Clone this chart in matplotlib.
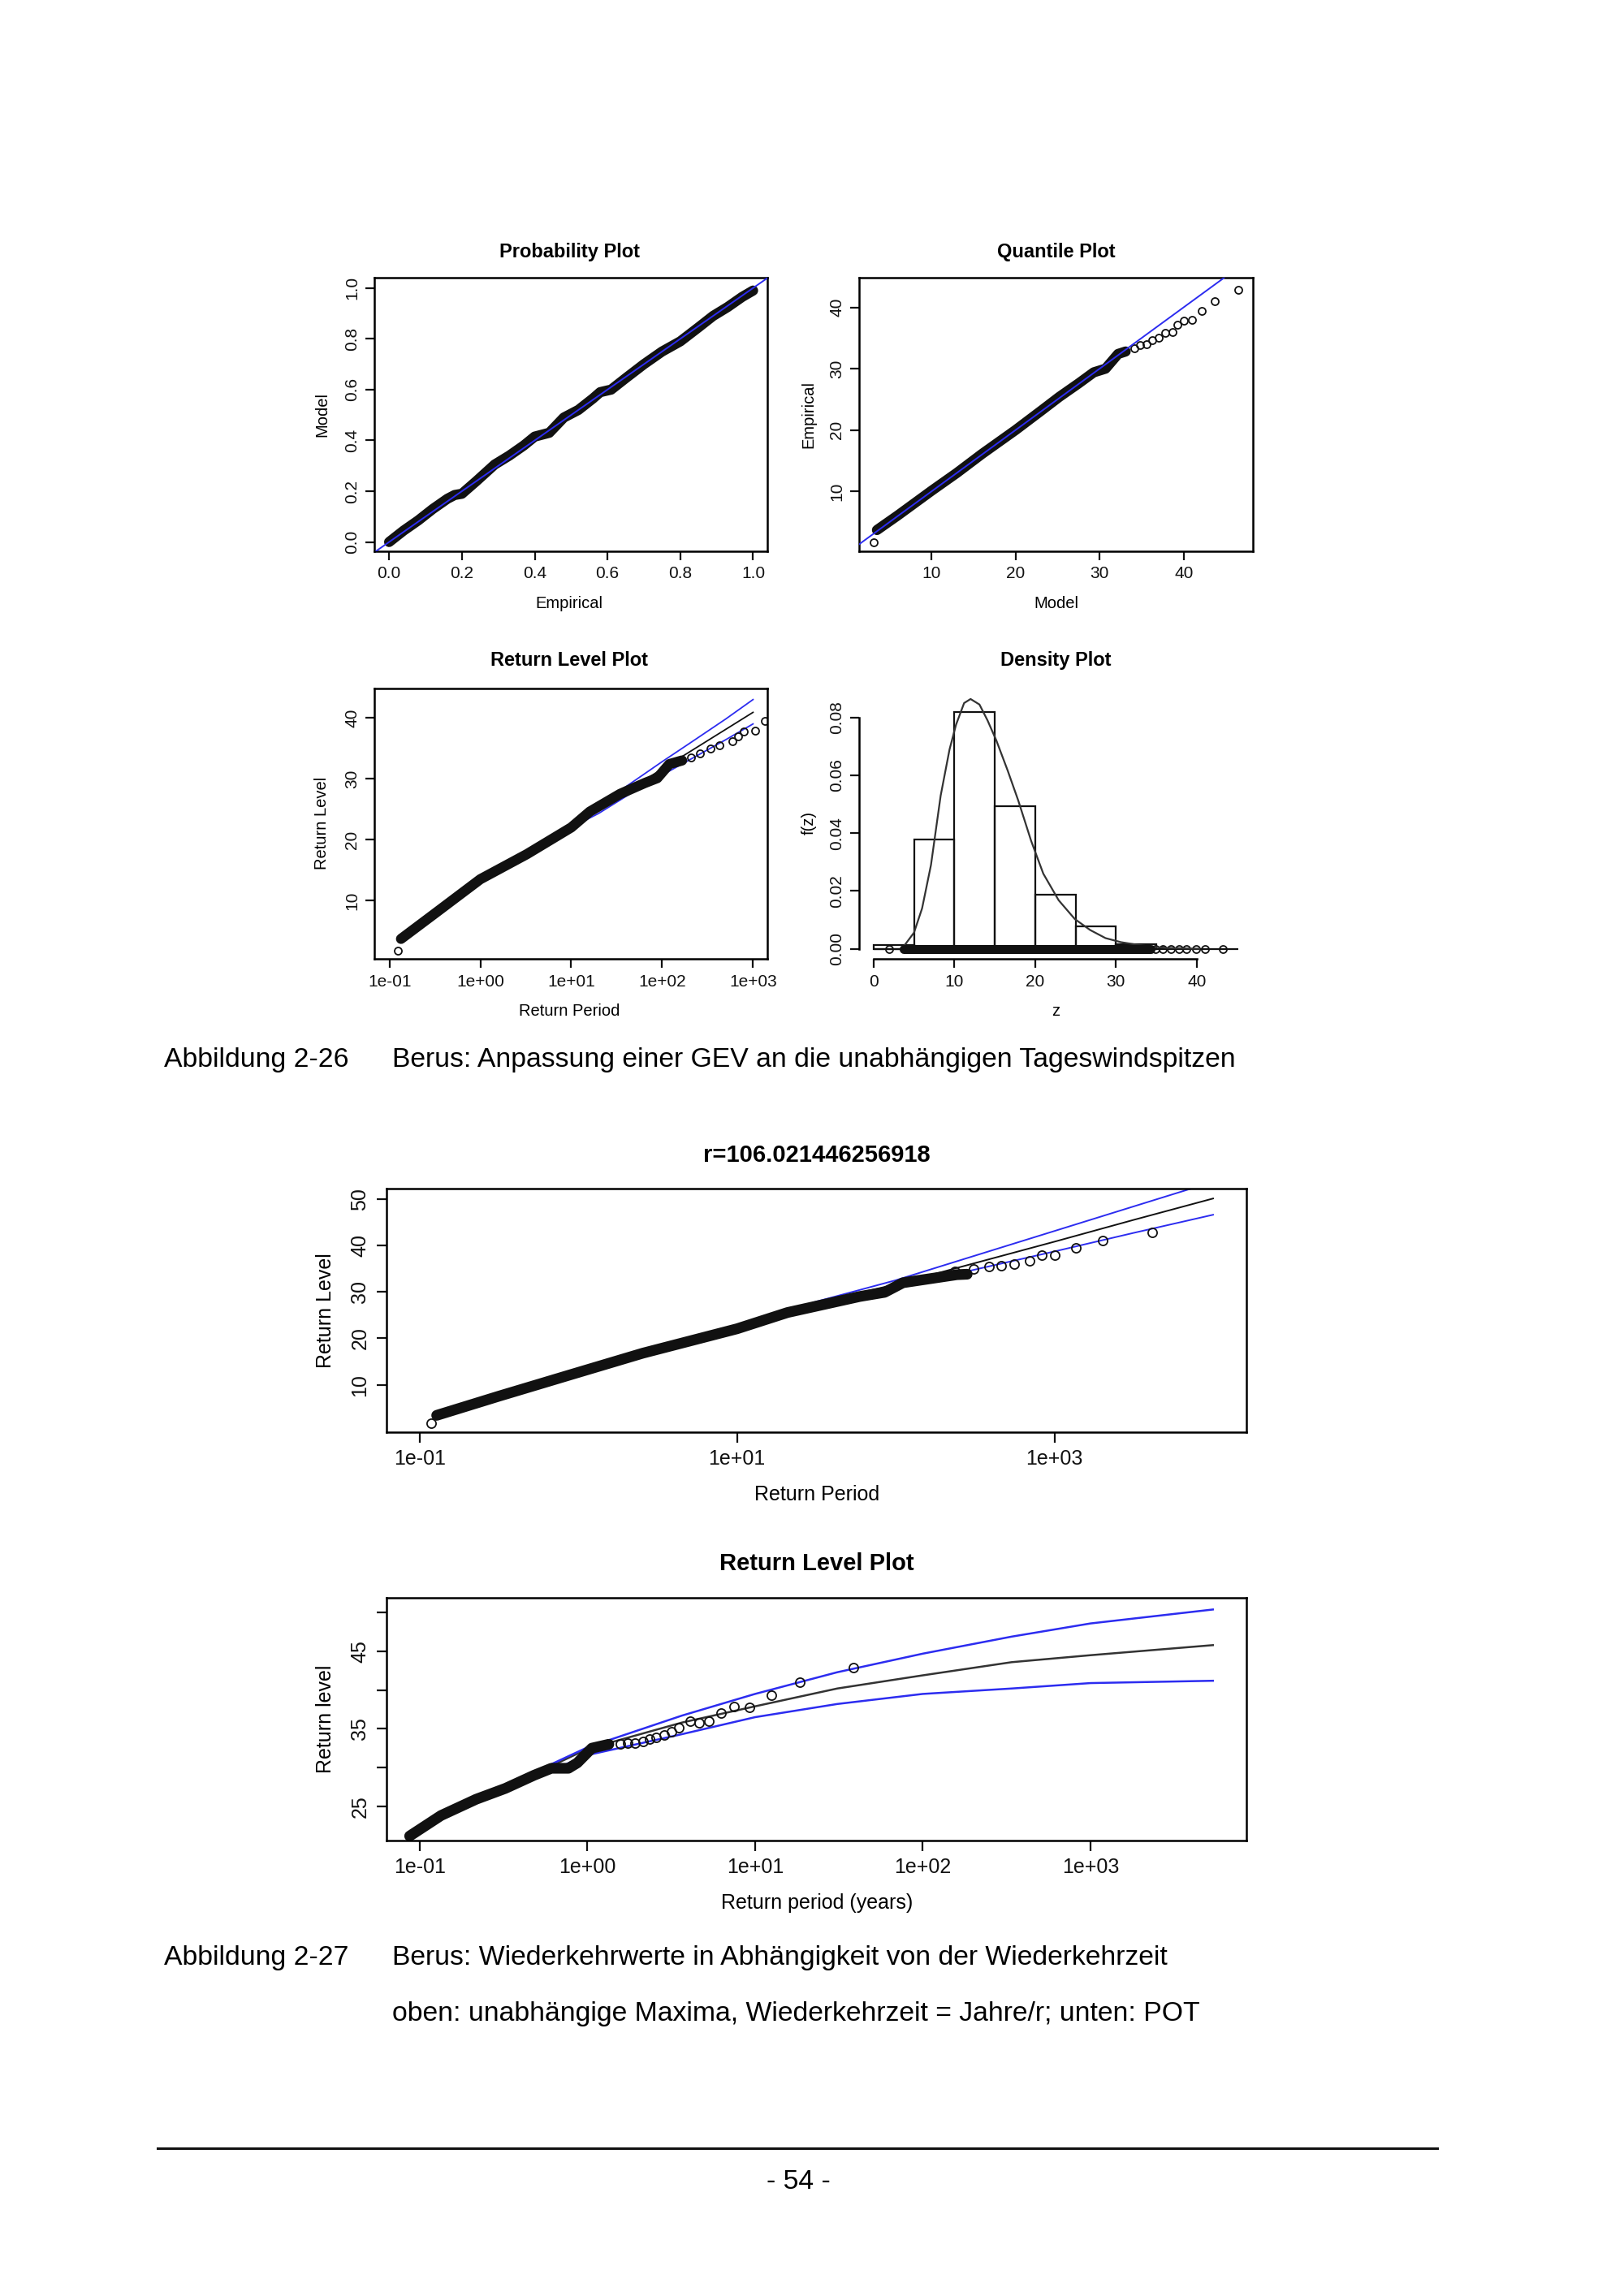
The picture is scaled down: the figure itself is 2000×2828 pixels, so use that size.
"""GEV and POT diagnostics for the Berus daily wind peaks, laid out as report page 54."""

import matplotlib.pyplot as plt
from matplotlib.lines import Line2D
from matplotlib.ticker import NullLocator

plt.rcParams["font.family"] = ["Liberation Sans", "DejaVu Sans"]

PAGE_W = 2000
PAGE_H = 2828
SCALE  = 0.992          # page coordinates below were measured slightly large
BLUE   = "#2c2cf0"
INK    = "#111111"

# ---- probability plot (empirical vs model) ----
pp_emp = [0.00, 0.04, 0.08, 0.12, 0.16, 0.18, 0.20, 0.24, 0.29, 0.33, 0.37, 0.40, 0.44,
          0.48, 0.52, 0.56, 0.58, 0.61, 0.65, 0.70, 0.75, 0.80, 0.85, 0.89, 0.93, 0.97, 1.00]
pp_mod = [0.00, 0.045, 0.085, 0.13, 0.17, 0.185, 0.19, 0.24, 0.305, 0.34, 0.38, 0.415, 0.43,
          0.49, 0.52, 0.565, 0.59, 0.60, 0.645, 0.70, 0.75, 0.79, 0.845, 0.89, 0.925, 0.965, 0.99]

# ---- quantile plot ----
qq_mod      = [3.5, 6.0, 10.0, 13.0, 16.0, 20.0, 23.0, 25.2, 27.5, 29.3, 30.7, 32.2, 33.1]
qq_emp      = [3.7, 6.1, 10.1, 13.0, 16.1, 20.0, 23.1, 25.4, 27.6, 29.4, 30.0, 32.4, 32.8]
qq_tail_mod = [3.15, 34.1, 34.8, 35.6, 36.3, 37.0, 37.8, 38.7, 39.3, 40.0, 41.0, 42.2, 43.7, 46.5]
qq_tail_emp = [1.73, 33.3, 33.8, 34.0, 34.7, 35.1, 35.8, 36.0, 37.1, 37.8, 37.9, 39.4, 41.0, 42.9]

# ---- GEV return level plot ----
rl_per      = [0.134, 0.305, 1.0, 3.24, 10.0, 16.0, 34.4, 64.6, 88.5, 120.0, 166.0]
rl_lev      = [3.7, 7.7, 13.5, 17.6, 22.0, 24.6, 27.5, 29.3, 30.1, 32.4, 33.0]
rl_tail_per = [0.124, 209, 263, 339, 427, 589, 692, 794, 1047, 1349]
rl_tail_lev = [1.69, 33.5, 34.1, 35.0, 35.5, 36.1, 37.0, 37.7, 37.9, 39.5]
rl_fit_per  = [0.217, 1.0, 10.0, 20.0, 50.0, 100.0, 200.0, 500.0, 1000.0]
rl_fit      = [6.05, 13.5, 22.0, 24.9, 28.8, 31.6, 34.4, 38.1, 40.9]
rl_upper    = [6.05, 13.5, 22.0, 25.6, 29.7, 32.8, 35.8, 39.8, 43.0]
rl_lower    = [6.05, 13.5, 22.0, 24.3, 28.0, 30.6, 33.1, 36.4, 39.0]

# ---- density plot ----
hist_edges = [0, 5, 10, 15, 20, 25, 30, 35]
hist_dens  = [0.0012, 0.0378, 0.0819, 0.0492, 0.0187, 0.0079, 0.0016]
dens_z = [3.5, 5.0, 6.0, 7.1, 8.3, 9.4, 10.2, 11.2, 12.0, 13.1, 14.1, 15.2, 16.6,
          17.9, 19.5, 21.0, 22.9, 24.9, 26.8, 28.7, 30.6, 32.6, 34.5, 36.4, 40.3]
dens_f = [0.0, 0.0056, 0.014, 0.029, 0.053, 0.069, 0.0775, 0.085, 0.0864, 0.0845, 0.079,
          0.072, 0.0616, 0.0513, 0.0373, 0.026, 0.0168, 0.0103, 0.0065, 0.0037, 0.0023,
          0.0014, 0.0007, 0.0003, 0.0]
rug_band  = [3.7, 34.3]
rug_z     = [1.9, 34.9, 35.8, 36.8, 37.8, 38.7, 39.9, 41.0, 43.2]
base_span = [0.0, 45.1]

# ---- independent maxima, r = 106.02 ----
m_per      = [0.128, 0.313, 0.891, 2.55, 10.0, 20.8, 59.3, 85.1, 111.0, 243.0, 282.0]
m_lev      = [3.41, 7.5, 12.15, 16.8, 22.05, 25.55, 29.0, 29.9, 31.96, 33.7, 33.8]
m_tail_per = [0.118, 236, 309, 387, 463, 556, 697, 836, 1000, 1371, 2023, 4130]
m_tail_lev = [1.67, 34.4, 35.0, 35.5, 35.7, 35.9, 36.7, 37.9, 37.9, 39.4, 41.1, 42.8]
m_fit_per  = [1.0, 10.0, 31.6, 100.0, 316.0, 1000.0, 3160.0, 10000.0]
m_fit      = [12.4, 22.5, 27.7, 31.6, 36.2, 40.8, 45.5, 50.1]
m_upper    = [12.4, 22.5, 27.9, 32.5, 37.8, 43.1, 48.4, 53.7]
m_lower    = [12.4, 22.5, 27.5, 30.8, 34.8, 38.7, 42.7, 46.6]

# ---- POT return level plot ----
pot_per      = [0.0871, 0.134, 0.217, 0.324, 0.481, 0.610, 0.771, 0.871, 1.064, 1.343]
pot_lev      = [21.15, 23.8, 25.9, 27.3, 29.0, 29.9, 29.9, 30.6, 32.5, 33.0]
pot_tail_per = [1.58, 1.74, 1.93, 2.14, 2.36, 2.57, 2.87, 3.16, 3.50, 4.10, 4.62, 5.31,
                6.24, 7.45, 9.27, 12.5, 18.5, 38.5]
pot_tail_lev = [33.03, 33.1, 33.2, 33.4, 33.7, 33.9, 34.24, 34.6, 35.1, 36.0, 35.8, 36.0,
                37.0, 37.9, 37.8, 39.3, 41.05, 42.93]
pot_fit_per  = [0.0843, 0.279, 1.0, 3.66, 10.0, 30.9, 100.0, 339.0, 1000.0, 5370.0]
pot_upper    = [21.3, 27.0, 32.6, 36.7, 39.5, 42.3, 44.7, 46.9, 48.6, 50.4]
pot_fit      = [21.3, 26.7, 32.4, 35.8, 37.9, 40.2, 41.9, 43.6, 44.5, 45.8]
pot_lower    = [21.3, 26.5, 31.6, 34.3, 36.5, 38.2, 39.5, 40.2, 40.9, 41.2]

LOG_TICKS  = [0.1, 1.0, 10.0, 100.0, 1000.0]
LOG_LABELS = ["1e-01", "1e+00", "1e+01", "1e+02", "1e+03"]


def add_box(fig, left, top, right, bottom):
    left, top, right, bottom = (v * SCALE for v in (left, top, right, bottom))
    return fig.add_axes([left / PAGE_W, 1 - bottom / PAGE_H,
                         (right - left) / PAGE_W, (bottom - top) / PAGE_H])


def put(fig, x, y, s, ha="center", **kw):
    fig.text(x * SCALE / PAGE_W, 1 - y * SCALE / PAGE_H, s, ha=ha, va="center", **kw)


def r_style(ax, size, tick_len, pad):
    for sp in ax.spines.values():
        sp.set_linewidth(1.8)
    ax.tick_params(direction="out", length=tick_len, width=1.6,
                   labelsize=size, pad=pad, colors=INK)


def set_ticks(ax, xt, xl, yt, yl):
    ax.set_xticks(xt, xl)
    ax.set_yticks(yt, yl, rotation=90, va="center")


def band(ax, x, y, lw):
    ax.plot(x, y, color=INK, lw=lw, solid_capstyle="round",
            solid_joinstyle="round", zorder=2)


def circles(ax, x, y, ms):
    ax.plot(x, y, "o", mfc="none", mec=INK, ms=ms, mew=1.3, zorder=2)


def fit_lines(ax, per, fit, upper, lower, lw, fit_color=INK):
    # drawn beneath the points so the dense part of the sample hides them
    ax.plot(per, fit, color=fit_color, lw=lw, zorder=1)
    ax.plot(per, upper, color=BLUE, lw=lw, zorder=1)
    ax.plot(per, lower, color=BLUE, lw=lw, zorder=1)


def main():
    fig = plt.figure(figsize=(PAGE_W / 100, PAGE_H / 100), dpi=100)

    small = dict(fontsize=14.5)
    head  = dict(fontsize=17, fontweight="bold")

    # probability plot
    ax = add_box(fig, 465, 345, 953, 684)
    band(ax, pp_emp, pp_mod, 9)
    ax.axline((0, 0), slope=1, color=BLUE, lw=1.4, zorder=3)
    ax.set_xlim(-0.04, 1.04)
    ax.set_ylim(-0.035, 1.04)
    ticks = [0.0, 0.2, 0.4, 0.6, 0.8, 1.0]
    labels = [f"{t:.1f}" for t in ticks]
    set_ticks(ax, ticks, labels, ticks, labels)
    r_style(ax, 15, 8, 5)
    put(fig, 707, 313, "Probability Plot", **head)
    put(fig, 707, 749, "Empirical", **small)
    put(fig, 400, 515, "Model", rotation=90, **small)

    # quantile plot
    ax = add_box(fig, 1067, 345, 1555, 684)
    band(ax, qq_mod, qq_emp, 9)
    circles(ax, qq_tail_mod, qq_tail_emp, 6.5)
    ax.axline((10, 10), slope=1, color=BLUE, lw=1.4, zorder=3)
    ax.set_xlim(1.42, 48.2)
    ax.set_ylim(0.3, 44.8)
    t = [10, 20, 30, 40]
    set_ticks(ax, t, [str(v) for v in t], t, [str(v) for v in t])
    r_style(ax, 15, 8, 5)
    put(fig, 1311, 313, "Quantile Plot", **head)
    put(fig, 1311, 749, "Model", **small)
    put(fig, 1004, 515, "Empirical", rotation=90, **small)

    # GEV return level plot
    ax = add_box(fig, 465, 855, 953, 1191)
    ax.set_xscale("log")
    band(ax, rl_per, rl_lev, 9)
    circles(ax, rl_tail_per, rl_tail_lev, 6.5)
    fit_lines(ax, rl_fit_per, rl_fit, rl_upper, rl_lower, 1.3)
    ax.set_xlim(10 ** -1.164, 10 ** 3.161)
    ax.set_ylim(0.36, 44.8)
    set_ticks(ax, LOG_TICKS, LOG_LABELS, t, [str(v) for v in t])
    ax.xaxis.set_minor_locator(NullLocator())
    r_style(ax, 15, 8, 5)
    put(fig, 707, 820, "Return Level Plot", **head)
    put(fig, 707, 1256, "Return Period", **small)
    put(fig, 400, 1022, "Return Level", rotation=90, **small)

    # density plot
    ax = add_box(fig, 1067, 855, 1555, 1191)
    widths = [b - a for a, b in zip(hist_edges[:-1], hist_edges[1:])]
    ax.bar(hist_edges[:-1], hist_dens, width=widths, align="edge",
           fill=False, edgecolor=INK, lw=1.6, zorder=2)
    ax.hlines(0, base_span[0], base_span[1], color=INK, lw=1.6, zorder=2)
    ax.plot(dens_z, dens_f, color="#333333", lw=1.6, zorder=3)
    ax.plot(rug_band, [0, 0], color=INK, lw=8, solid_capstyle="round", zorder=3)
    circles(ax, rug_z, [0] * len(rug_z), 6.5)
    ax.set_xlim(-1.75, 46.9)
    ax.set_ylim(-0.0036, 0.090)
    xt = [0, 10, 20, 30, 40]
    yt = [0.0, 0.02, 0.04, 0.06, 0.08]
    set_ticks(ax, xt, [str(v) for v in xt], yt, [f"{v:.2f}" for v in yt])
    r_style(ax, 15, 8, 5)
    ax.spines["top"].set_visible(False)
    ax.spines["right"].set_visible(False)
    ax.spines["bottom"].set_bounds(0, 40)
    ax.spines["left"].set_bounds(0, 0.08)
    put(fig, 1311, 820, "Density Plot", **head)
    put(fig, 1311, 1256, "z", **small)
    put(fig, 1004, 1022, "f(z)", rotation=90, **small)

    cap = dict(fontsize=24.3)
    put(fig, 204, 1316, "Abbildung 2-26", ha="left", **cap)
    put(fig, 487, 1316, "Berus: Anpassung einer GEV an die unabhängigen Tageswindspitzen",
        ha="left", **cap)

    big   = dict(fontsize=18)
    head2 = dict(fontsize=21, fontweight="bold")

    # independent maxima return levels
    ax = add_box(fig, 480, 1476, 1547, 1778)
    ax.set_xscale("log")
    band(ax, m_per, m_lev, 9.5)
    circles(ax, m_tail_per, m_tail_lev, 8)
    fit_lines(ax, m_fit_per, m_fit, m_upper, m_lower, 1.4)
    ax.set_xlim(10 ** -1.208, 10 ** 4.208)
    ax.set_ylim(-0.17, 52.2)
    yt = [10, 20, 30, 40, 50]
    set_ticks(ax, [0.1, 10.0, 1000.0], ["1e-01", "1e+01", "1e+03"],
              yt, [str(v) for v in yt])
    ax.xaxis.set_minor_locator(NullLocator())
    r_style(ax, 18, 9, 6)
    put(fig, 1014, 1434, "r=106.021446256918", **head2)
    put(fig, 1014, 1856, "Return Period", **big)
    put(fig, 404, 1627, "Return Level", rotation=90, **big)

    # POT return levels
    ax = add_box(fig, 480, 1984, 1547, 2285)
    ax.set_xscale("log")
    band(ax, pot_per, pot_lev, 9.5)
    circles(ax, pot_tail_per, pot_tail_lev, 8)
    fit_lines(ax, pot_fit_per, pot_fit, pot_upper, pot_lower, 1.8, fit_color="#333333")
    ax.set_xlim(10 ** -1.197, 10 ** 3.928)
    ax.set_ylim(20.6, 51.9)
    yt = [25, 30, 35, 40, 45, 50]
    set_ticks(ax, LOG_TICKS, LOG_LABELS, yt,
              [str(v) if v in (25, 35, 45) else "" for v in yt])
    ax.xaxis.set_minor_locator(NullLocator())
    r_style(ax, 18, 9, 6)
    put(fig, 1014, 1942, "Return Level Plot", **head2)
    put(fig, 1014, 2363, "Return period (years)", **big)
    put(fig, 404, 2134, "Return level", rotation=90, **big)

    put(fig, 204, 2431, "Abbildung 2-27", ha="left", **cap)
    put(fig, 487, 2431, "Berus: Wiederkehrwerte in Abhängigkeit von der Wiederkehrzeit",
        ha="left", **cap)
    put(fig, 487, 2500, "oben: unabhängige Maxima, Wiederkehrzeit = Jahre/r; unten: POT",
        ha="left", **cap)

    rule_y = 1 - 2667 * SCALE / PAGE_H
    fig.add_artist(Line2D([196 * SCALE / PAGE_W, 1784 * SCALE / PAGE_W], [rule_y, rule_y],
                          transform=fig.transFigure, color=INK, lw=2.2))
    put(fig, 991, 2709, "- 54 -", **cap)

    fig.savefig("out.png", dpi=100, facecolor="white")
    plt.close(fig)


if __name__ == "__main__":
    main()
